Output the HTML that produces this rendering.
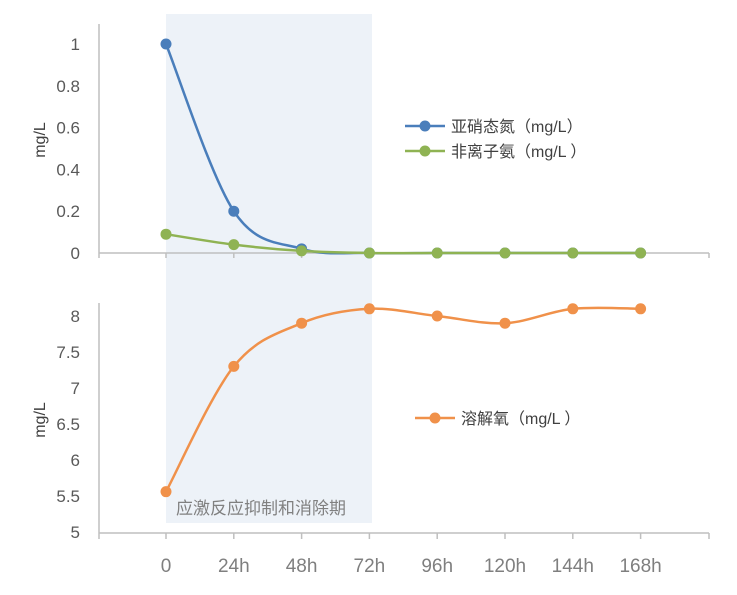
<!DOCTYPE html>
<html><head><meta charset="utf-8"><style>
body{margin:0;background:#fff}
svg text{font-family:"Liberation Sans","Noto Sans CJK SC",sans-serif}
</style></head><body>
<svg id="c" width="737" height="590" xmlns="http://www.w3.org/2000/svg">
<rect x="166" y="14" width="206" height="509" fill="#edf2f8"/>
<text x="176" y="514" font-size="17" fill="#808080">应激反应抑制和消除期</text>
<g id="g"></g>
</svg>
<script>
const categories=["0","24h","48h","72h","96h","120h","144h","168h"];
const nitrite=[1,0.2,0.02,0,0,0,0,0];
const ammonia=[0.09,0.04,0.01,0,0,0,0,0];
const oxygen=[5.56,7.3,7.9,8.1,8.0,7.9,8.1,8.1];
const topTicks=[0,0.2,0.4,0.6,0.8,1];
const botTicks=[5,5.5,6,6.5,7,7.5,8];
const NS="http://www.w3.org/2000/svg";
const g=document.getElementById('g');
function el(t,a,txt){const e=document.createElementNS(NS,t);for(const k in a)e.setAttribute(k,a[k]);if(txt!==undefined)e.textContent=txt;g.appendChild(e);return e;}
const xs=i=>166+i*67.8;
const yT=v=>253-v*209;
const yB=v=>532-(v-5)*72;
function spline(pts){let d=`M${pts[0][0]},${pts[0][1]}`;for(let i=0;i<pts.length-1;i++){const p0=pts[i-1]||pts[i],p1=pts[i],p2=pts[i+1],p3=pts[i+2]||p2;const t=6;d+=` C${p1[0]+(p2[0]-p0[0])/t},${p1[1]+(p2[1]-p0[1])/t} ${p2[0]-(p3[0]-p1[0])/t},${p2[1]-(p3[1]-p1[1])/t} ${p2[0]},${p2[1]}`;}return d;}
let a=el('line',{x1:99,y1:253,x2:709,y2:253,stroke:'#bfbfbf','stroke-width':1.5});

a=el('line',{x1:99,y1:24,x2:99,y2:253,stroke:'#bfbfbf','stroke-width':1.5});

a=el('line',{x1:99,y1:533,x2:709,y2:533,stroke:'#bfbfbf','stroke-width':1.5});

a=el('line',{x1:99,y1:303,x2:99,y2:533,stroke:'#bfbfbf','stroke-width':1.5});

for(let i=-1;i<=categories.length;i++){const x=i<0?99:(i==categories.length?709:xs(i));
 let t=el('line',{x1:x,y1:253,x2:x,y2:258,stroke:'#bfbfbf','stroke-width':1.5});
 t=el('line',{x1:x,y1:533,x2:x,y2:539,stroke:'#bfbfbf','stroke-width':1.5});}
categories.forEach((c,i)=>{const t=el('text',{x:xs(i),y:572,'font-size':19,fill:'#7f7f7f','text-anchor':'middle'},c);
 });
topTicks.forEach(v=>{const t=el('text',{x:80,y:yT(v)+6,'font-size':17,fill:'#595959','text-anchor':'end'},String(v));
 });
botTicks.forEach(v=>{const t=el('text',{x:80,y:yB(v)+6,'font-size':17,fill:'#595959','text-anchor':'end'},String(v));
 });
let t=el('text',{x:0,y:0,'font-size':16,fill:'#404040','text-anchor':'middle',transform:'translate(45,140) rotate(-90)'},'mg/L');

t=el('text',{x:0,y:0,'font-size':16,fill:'#404040','text-anchor':'middle',transform:'translate(45,420) rotate(-90)'},'mg/L');

function series(vals,fy,color,name){const pts=vals.map((v,i)=>[xs(i),fy(v)]);
 const p=el('path',{d:spline(pts),fill:'none',stroke:color,'stroke-width':2.5});
 
 pts.forEach(q=>{const c=el('circle',{cx:q[0],cy:q[1],r:5.5,fill:color});
 });}
series(nitrite,yT,'#4a7ebb','nitrite');
series(ammonia,yT,'#8fb353','ammonia');
series(oxygen,yB,'#f0914a','oxygen');
function legend(x,y,color,label,name){let l=el('line',{x1:x,y1:y,x2:x+40,y2:y,stroke:color,'stroke-width':2.5});
 
 l=el('circle',{cx:x+20,cy:y,r:5.5,fill:color});
 l=el('text',{x:x+46,y:y+6,'font-size':16,fill:'#404040'},label);}
legend(405,126,'#4a7ebb','亚硝态氮（mg/L）','nitrite');
legend(405,151,'#8fb353','非离子氨（mg/L ）','ammonia');
legend(415,418,'#f0914a','溶解氧（mg/L ）','oxygen');
</script>
</body></html>
